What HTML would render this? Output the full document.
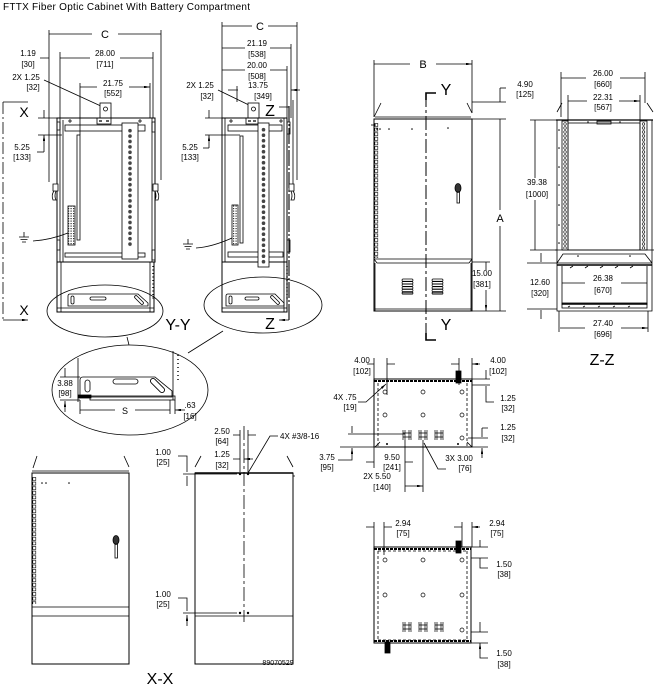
<!DOCTYPE html>
<html><head><meta charset="utf-8"><style>
html,body{margin:0;padding:0;background:#fff;}
svg{display:block;}
text{font-family:"Liberation Sans",Arial,sans-serif;fill:#000;stroke:none;}
</style></head><body>
<svg width="654" height="689" viewBox="0 0 654 689" xmlns="http://www.w3.org/2000/svg">
<defs>
<marker id="a" viewBox="0 0 10 4" refX="10" refY="2" markerWidth="6" markerHeight="2.4" markerUnits="userSpaceOnUse" orient="auto"><path d="M0,0L10,2L0,4z" fill="#000" stroke="none"/></marker>
<pattern id="h1" x="122" y="128" width="16" height="5.4" patternUnits="userSpaceOnUse"><circle cx="8" cy="2.7" r="1.8" fill="#444"/></pattern>
<pattern id="h2" x="258" y="127" width="11" height="5.5" patternUnits="userSpaceOnUse"><circle cx="5.5" cy="2.7" r="1.8" fill="#444"/></pattern>
<pattern id="hg1" x="374" y="123" width="6" height="4.6" patternUnits="userSpaceOnUse"><rect x="0.8" y="0.5" width="3" height="3" fill="none" stroke="#000" stroke-width="0.6"/></pattern>
<pattern id="hg2" x="32" y="477" width="6" height="4.6" patternUnits="userSpaceOnUse"><rect x="0.8" y="0.5" width="3" height="3" fill="none" stroke="#000" stroke-width="0.6"/></pattern>
<pattern id="zr1" x="562" y="122" width="6" height="4" patternUnits="userSpaceOnUse"><circle cx="3" cy="2" r="1.3" fill="none" stroke="#000" stroke-width="0.6"/></pattern>
<pattern id="zr2" x="640" y="122" width="7" height="4" patternUnits="userSpaceOnUse"><circle cx="3.5" cy="2" r="1.3" fill="none" stroke="#000" stroke-width="0.6"/></pattern>
<pattern id="tb" x="0" y="0" width="2.5" height="2.5" patternUnits="userSpaceOnUse"><rect x="0.5" y="0.5" width="1.2" height="1.2" fill="#333"/></pattern>
</defs>

<text x="3" y="10" font-size="10" textLength="247">FTTX Fiber Optic Cabinet With Battery Compartment</text>

<g stroke="#000" stroke-width="0.8" fill="none">
<!-- ============ VIEW 1 ============ -->
<path d="M49,30V182M161,30V180M60,52V118M153,52V118M80,83V135M150,83V118"/>
<path d="M92,34H49M118,34H161M40,58H49M90,58H60M120,58H153M97,87H80M129,87H150" marker-end="url(#a)"/>
<path d="M44,80L103,107"/>
<rect x="100" y="103" width="11" height="15" fill="#fff"/>
<circle cx="105.5" cy="109" r="2"/>
<rect x="97" y="118" width="14" height="6"/>
<path d="M99,121h3M106,121h3" stroke-width="1.2"/>
<path d="M3,102H28M3,320H28" marker-end="url(#a)"/>
<path d="M3,102V320" stroke-dasharray="12,3,2,3"/>
<path d="M38,118H57M38,135H62"/>
<path d="M44,110V118M44,152V135" marker-end="url(#a)"/>
<path d="M44,152H37"/>
<rect x="57" y="118" width="98" height="144" stroke-width="1"/>
<rect x="57" y="262" width="97" height="50" stroke-width="1"/>
<path d="M60,118V262M63,120V262M152,118V262"/>
<rect x="65" y="125" width="80" height="6"/>
<path d="M68,121h4M70,119v4M138,121h4M140,119v4"/>
<rect x="65" y="253" width="80" height="4"/>
<rect x="122" y="123" width="16" height="136" fill="#fff"/>
<rect x="122" y="128" width="16" height="119" fill="url(#h1)" stroke="none"/>
<rect x="77" y="135" width="3" height="105"/>
<rect x="68" y="206" width="7" height="39" fill="url(#tb)"/>
<path d="M53,184h5v7h-5zM54,191q-3,4 -1,9h3q-2,-4 0,-9z" fill="#fff"/>
<path d="M153,184h5v7h-5zM157,191q3,4 1,9h-3q2,-4 0,-9z" fill="#fff"/>
<path d="M57,122h3v8h-3zM57,240h3v10h-3zM152,122h3v10h-3zM152,250h3v10h-3z"/>
<path d="M61,262V312M150,262V312"/>
<path d="M153,266V300" stroke-dasharray="1,2.5" stroke-width="1.4"/>
<path d="M70,294H138L148,303V306H68V296Q68,294 70,294z"/>
<rect x="71" y="296" width="3" height="8" rx="1.5"/>
<rect x="90" y="297" width="16" height="3" rx="1.5"/>
<path d="M136,297L142,303" stroke-width="3.6" stroke-linecap="round"/>
<path d="M136,297L142,303" stroke-width="2" stroke="#fff" stroke-linecap="round"/>
<path d="M57,308H154"/>
<ellipse cx="105" cy="311" rx="58" ry="26"/>

<!-- ============ VIEW 2 ============ -->
<path d="M222,22V118M297,22V180M291,44V118M287,66V118M237,86V102M293,100V193"/>
<path d="M252,26H222M268,26H297M245,48H222M270,48H291M245,70H222M270,70H287M228,90H238M300,90H291" marker-end="url(#a)"/>
<path d="M218,90L253,107"/>
<rect x="248" y="103" width="11" height="15" fill="#fff"/>
<circle cx="253.5" cy="109" r="2"/>
<rect x="246" y="118" width="12" height="6"/>
<path d="M248,121h3M253,121h3" stroke-width="1.2"/>
<path d="M289,107H279M289,320H279" marker-end="url(#a)"/>
<path d="M289,106V320" stroke-width="1.1" stroke-dasharray="16,2,2,2"/>
<path d="M205,118H222M205,135H240"/>
<path d="M209,110V118M209,148V135" marker-end="url(#a)"/>
<path d="M209,148H203"/>
<rect x="222" y="118" width="65" height="144" stroke-width="1"/>
<rect x="222" y="262" width="65" height="50" stroke-width="1"/>
<path d="M225,118V262M284,118V312"/>
<rect x="228" y="125" width="54" height="6"/>
<path d="M229,121h4M231,119v4M279,121h4M281,119v4"/>
<rect x="228" y="252" width="55" height="5"/>
<rect x="258" y="123" width="11" height="144" fill="#fff"/>
<rect x="258" y="127" width="11" height="137" fill="url(#h2)" stroke="none"/>
<rect x="240" y="136" width="3" height="107"/>
<rect x="232" y="205" width="6" height="40" fill="url(#tb)"/>
<path d="M287,122h3v12h-3zM287,240h3v12h-3z"/>
<path d="M289,184h5v7h-5zM293,191q3,4 1,9h-3q2,-4 0,-9z" fill="#fff"/>
<path d="M287,266V300" stroke-dasharray="1,2.5" stroke-width="1.4"/>
<path d="M228,294H275L284,303V306H226V296Q226,294 228,294z"/>
<rect x="229" y="296" width="3" height="8" rx="1.5"/>
<rect x="245" y="297" width="14" height="3" rx="1.5"/>
<path d="M272,297L278,303" stroke-width="3.6" stroke-linecap="round"/>
<path d="M272,297L278,303" stroke-width="2" stroke="#fff" stroke-linecap="round"/>
<path d="M222,308H287"/>
<ellipse cx="263" cy="305" rx="59" ry="28"/>

<path d="M24,232V237M19,237H29M20.5,239.5H27.5M22,242H26"/>
<path d="M33,241Q50,240 68,233"/>
<path d="M188,239V244M183,244H193M184.5,246.5H191.5M186,249H190"/>
<path d="M196,248Q212,247 232,238"/>

<path d="M127,337L129,345M223,331L188,353"/>

<!-- ============ DETAIL ELLIPSE ============ -->
<ellipse cx="130" cy="390" rx="78" ry="45"/>
<path d="M78,358V402M173,351V400"/>
<path d="M178,355V380" stroke-dasharray="1,3" stroke-width="1.4"/>
<path d="M83,377H155L172,391V397H80V380Q80,377 83,377z"/>
<rect x="90" y="396" width="85" height="4"/>
<rect x="78" y="395" width="13" height="3" fill="#000"/>
<rect x="85" y="380" width="5" height="12" rx="2.5"/>
<rect x="113" y="379" width="25" height="5" rx="2.5"/>
<path d="M153,381L162,390" stroke-width="6" stroke-linecap="round"/>
<path d="M153,381L162,390" stroke-width="4.2" stroke="#fff" stroke-linecap="round"/>
<path d="M60,377H80M60,400H80"/>
<path d="M65,368V377M65,412V401" marker-end="url(#a)"/>
<path d="M80,400V414M170,400V414M175,400V414"/>
<path d="M115,410H80M135,410H170M185,410H175" marker-end="url(#a)"/>

<!-- ============ VIEW 3 (front) ============ -->
<path d="M410,64H374M436,64H472" marker-end="url(#a)"/>
<path d="M374,60V117M472,60V113"/>
<path d="M374,117L381,103M467,103L472,113"/>
<path d="M375,117H471"/>
<rect x="374" y="119" width="98" height="192" stroke-width="1"/>
<path d="M374,259H472M377,263H469M374,259L377,263M472,259L469,263"/>
<path d="M375,263V311M471,263V311M375,309H471"/>
<rect x="374" y="123" width="6" height="135" fill="url(#hg1)" stroke="none"/>
<path d="M371,125H376"/>
<g fill="#000" stroke="none"><circle cx="377" cy="129" r="0.8"/><circle cx="380" cy="129" r="0.8"/><circle cx="389" cy="129" r="0.8"/><circle cx="412" cy="129" r="0.8"/><circle cx="448" cy="128" r="0.8"/></g>
<ellipse cx="458" cy="188" rx="3" ry="4.5" fill="#333"/>
<rect x="457" y="192" width="2.5" height="11"/>
<path d="M426,93V340" stroke-width="1" stroke-dasharray="14,3,3,3"/>
<path d="M426,100V93H436M426,333V340H436" stroke-width="1.6"/>
<g stroke-width="0.7">
<rect x="402" y="279" width="11" height="2.2" rx="1.1"/><rect x="402" y="281.6" width="11" height="2.2" rx="1.1"/><rect x="402" y="284.2" width="11" height="2.2" rx="1.1"/><rect x="402" y="286.8" width="11" height="2.2" rx="1.1"/><rect x="402" y="289.4" width="11" height="2.2" rx="1.1"/><rect x="402" y="292" width="11" height="2.2" rx="1.1" fill="#888"/>
<rect x="432" y="279" width="11" height="2.2" rx="1.1"/><rect x="432" y="281.6" width="11" height="2.2" rx="1.1"/><rect x="432" y="284.2" width="11" height="2.2" rx="1.1"/><rect x="432" y="286.8" width="11" height="2.2" rx="1.1"/><rect x="432" y="289.4" width="11" height="2.2" rx="1.1"/><rect x="432" y="292" width="11" height="2.2" rx="1.1" fill="#888"/>
</g>
<path d="M472,102H506M472,119H506M472,311H506M472,262H490"/>
<path d="M500,88V102M500,210V119M500,226V311M486,270V262M486,290V311" marker-end="url(#a)"/>
<path d="M500,88H506"/>

<!-- ============ Z-Z VIEW ============ -->
<path d="M561,72V117M645,72V103M568,95V122M640,95V122"/>
<path d="M586,78H561M620,78H645M587,101H568M619,101H640" marker-end="url(#a)"/>
<path d="M557,112L562,103M647,103L653,112"/>
<path d="M556,120H653" stroke-width="1.2"/>
<path d="M557,120V250M652,120V250"/>
<rect x="562" y="121" width="6" height="129"/>
<rect x="562" y="122" width="6" height="127" fill="url(#zr1)" stroke="none"/>
<rect x="640" y="121" width="7" height="129"/>
<rect x="640" y="122" width="7" height="127" fill="url(#zr2)" stroke="none"/>
<rect x="568" y="123" width="72" height="127"/>
<rect x="597" y="121" width="14" height="3" fill="#999"/>
<g fill="#000" stroke="none"><circle cx="559" cy="130" r="0.8"/><circle cx="559" cy="148" r="0.8"/><circle cx="559" cy="167" r="0.8"/><circle cx="559" cy="185" r="0.8"/><circle cx="559" cy="205" r="0.8"/><circle cx="559" cy="225" r="0.8"/><circle cx="559" cy="243" r="0.8"/><circle cx="578" cy="256" r="0.8"/><circle cx="630" cy="256" r="0.8"/><circle cx="588" cy="122" r="0.7"/><circle cx="620" cy="122" r="0.7"/></g>
<path d="M555,250H654M557,263L563,254H645L652,263M557,250V263M652,250V263M557,263H652"/>
<path d="M557,263V311H652V263"/>
<path d="M562,266V305M647,266V305"/>
<path d="M557,265H652" stroke-width="1.6"/>
<path d="M573,266l-3,2M588,266l-3,2M603,266l-3,2M618,266l-3,2M633,266l-3,2"/>
<rect x="562" y="303" width="85" height="5"/>
<path d="M562,304H647" stroke-width="1.4"/>
<path d="M570,306l-2,1M585,306l-2,1M600,306l-2,1M615,306l-2,1M630,306l-2,1"/>
<path d="M527,263H557M527,309H557M530,120H557M530,250H557"/>
<path d="M541,253V262M541,319V310M535,178V120M535,200V250M585,283H562M621,283H647M585,328H560M621,328H648" marker-end="url(#a)"/>
<path d="M559,311V332M648,311V332"/>

<!-- ============ X-X LEFT ============ -->
<path d="M33,468L37,456M124,456L129,467"/>
<path d="M32,471H129"/>
<rect x="32" y="473" width="97" height="191" stroke-width="1"/>
<path d="M32,607H129M32,616H129"/>
<rect x="32" y="477" width="6" height="127" fill="url(#hg2)" stroke="none"/>
<g fill="#000" stroke="none"><circle cx="42" cy="483" r="0.8"/><circle cx="46" cy="483" r="0.8"/><circle cx="69" cy="483" r="0.8"/></g>
<ellipse cx="116" cy="540" rx="3" ry="4.5" fill="#333"/>
<rect x="115" y="544" width="2.5" height="14"/>

<!-- ============ X-X RIGHT ============ -->
<path d="M195,467L201,456M287,456L293,467"/>
<rect x="195" y="473" width="98" height="191" stroke-width="1"/>
<path d="M195,473H293" stroke-width="1.4"/>
<path d="M195,616H293M293,476h2"/>
<path d="M244,426V622" stroke-dasharray="14,3,3,3"/>
<g fill="#000" stroke="none"><circle cx="240" cy="474" r="1.2"/><circle cx="248" cy="474" r="1.2"/><circle cx="240" cy="613" r="1.2"/><circle cx="248" cy="613" r="1.2"/></g>
<path d="M183,474H237M183,613H237"/>
<path d="M178,456H187V472M187,486V476M178,598H187V611M187,626V615" marker-end="url(#a)"/>
<path d="M240,430V472M248,430V472"/>
<path d="M233,435H240M256,435H248M233,459H240M253,459H244" marker-end="url(#a)"/>
<path d="M278,436H270L248,473"/>
<path d="M348,434H405M340,447H374"/>
<path d="M352,426V433M338,460H352V448" marker-end="url(#a)"/>

<!-- ============ TOP PLAN ============ -->
<rect x="374" y="379" width="98" height="68" stroke-width="1"/>
<path d="M374,381H472" stroke-width="2" stroke-dasharray="3,1"/>
<path d="M378,383V447M467,383V447" stroke-dasharray="3,2"/>
<path d="M375,447L380,442M467,442L472,447"/>
<g stroke-width="0.7">
<circle cx="385" cy="392" r="2"/><circle cx="423" cy="392" r="2"/><circle cx="462" cy="392" r="2"/>
<circle cx="385" cy="415" r="2"/><circle cx="423" cy="415" r="2"/><circle cx="462" cy="415" r="2"/>
<circle cx="462" cy="438" r="2"/>
<path d="M403,430v10M405,430v10M409,430v10M411,430v10M403,433h8M403,437h8"/>
<path d="M419,430v10M421,430v10M425,430v10M427,430v10M419,433h8M419,437h8"/>
<path d="M435,430v10M437,430v10M441,430v10M443,430v10M435,433h8M435,437h8"/>
</g>
<rect x="456" y="371" width="5" height="12" fill="#000"/>
<g fill="#000" stroke="none"><circle cx="387" cy="444" r="1"/><circle cx="458" cy="444" r="1"/></g>
<path d="M374,358V379M387,358V395M459,358V385M472,358V379"/>
<path d="M367,364H374M395,364H387M451,364H459M480,364H472" marker-end="url(#a)"/>
<path d="M472,379H490M472,385H490M468,438H488M472,447H488"/>
<path d="M486,370V379M486,396V386M482,428V437M482,458V448" marker-end="url(#a)"/>
<path d="M486,396V402H494M482,428H488"/>
<path d="M358,402H366L386,384" marker-end="url(#a)"/>
<path d="M374,447V468M405,440V492M423,440V492"/>
<path d="M366,462H374M413,462H405M414,486H405M414,486H423" marker-end="url(#a)"/>
<path d="M424,443L438,469H446"/>

<!-- ============ BOTTOM PLAN ============ -->
<rect x="374" y="547" width="97" height="96" stroke-width="1"/>
<path d="M374,549H471M374,641H471" stroke-width="2" stroke-dasharray="3,1"/>
<path d="M378,551V640M467,551V640M378,551H467M378,640H467" stroke-dasharray="3,2"/>
<g stroke-width="0.7">
<circle cx="385" cy="560" r="2"/><circle cx="423" cy="560" r="2"/><circle cx="462" cy="560" r="2"/>
<circle cx="385" cy="595" r="2"/><circle cx="423" cy="595" r="2"/><circle cx="462" cy="595" r="2"/>
<circle cx="462" cy="630" r="2"/>
<path d="M403,622v10M405,622v10M409,622v10M411,622v10M403,625h8M403,629h8"/>
<path d="M419,622v10M421,622v10M425,622v10M427,622v10M419,625h8M419,629h8"/>
<path d="M435,622v10M437,622v10M441,622v10M443,622v10M435,625h8M435,629h8"/>
</g>
<rect x="456" y="541" width="5" height="12" fill="#000"/>
<rect x="385" y="642" width="5" height="11" fill="#000"/>
<path d="M374,522V547M384,522V555M462,522V547M472,522V547"/>
<path d="M366,527H374M392,527H384M454,527H462M480,527H472" marker-end="url(#a)"/>
<path d="M471,547H488M471,558H488M471,632H488M471,643H488"/>
<path d="M480,540V547M480,566V558M480,622V632M480,652V643" marker-end="url(#a)"/>
<path d="M480,566V568H488M480,652V658H488"/>
</g>

<!-- ============ TEXT ============ -->
<g font-size="8" text-anchor="middle">
<text x="105" y="38" font-size="11">C</text>
<text x="28" y="56">1.19</text><text x="28" y="67">[30]</text>
<text x="105" y="56">28.00</text><text x="105" y="67">[711]</text>
<text x="113" y="86">21.75</text><text x="113" y="96">[552]</text>
<text x="26" y="80">2X 1.25</text><text x="33" y="90">[32]</text>
<text x="22" y="150">5.25</text><text x="22" y="160">[133]</text>
<text x="24" y="117" font-size="14">X</text>
<text x="24" y="315" font-size="14">X</text>
<text x="178" y="330" font-size="16">Y-Y</text>

<text x="260" y="30" font-size="11">C</text>
<text x="257" y="46">21.19</text><text x="257" y="57">[538]</text>
<text x="257" y="68">20.00</text><text x="257" y="79">[508]</text>
<text x="258" y="88">13.75</text><text x="263" y="99">[349]</text>
<text x="200" y="88">2X 1.25</text><text x="207" y="99">[32]</text>
<text x="190" y="150">5.25</text><text x="190" y="160">[133]</text>
<text x="270" y="116" font-size="16">Z</text>
<text x="270" y="329" font-size="16">Z</text>

<text x="65" y="386">3.88</text><text x="65" y="396">[98]</text>
<text x="125" y="414" font-size="9">S</text>
<text x="190" y="408">.63</text><text x="190" y="419">[16]</text>

<text x="423" y="68" font-size="11">B</text>
<text x="446" y="95" font-size="16">Y</text>
<text x="446" y="330" font-size="16">Y</text>
<text x="525" y="87">4.90</text><text x="525" y="97">[125]</text>
<text x="500" y="222" font-size="11">A</text>
<text x="482" y="276">15.00</text><text x="482" y="287">[381]</text>

<text x="603" y="76">26.00</text><text x="603" y="87">[660]</text>
<text x="603" y="100">22.31</text><text x="603" y="110">[567]</text>
<text x="537" y="185">39.38</text><text x="537" y="197">[1000]</text>
<text x="540" y="285">12.60</text><text x="540" y="296">[320]</text>
<text x="603" y="281">26.38</text><text x="603" y="293">[670]</text>
<text x="603" y="326">27.40</text><text x="603" y="337">[696]</text>
<text x="602" y="365" font-size="16">Z-Z</text>

<text x="362" y="363">4.00</text><text x="362" y="374">[102]</text>
<text x="498" y="363">4.00</text><text x="498" y="374">[102]</text>
<text x="345" y="400">4X .75</text><text x="350" y="410">[19]</text>
<text x="508" y="401">1.25</text><text x="508" y="411">[32]</text>
<text x="508" y="430">1.25</text><text x="508" y="441">[32]</text>
<text x="327" y="460">3.75</text><text x="327" y="470">[95]</text>
<text x="392" y="460">9.50</text><text x="392" y="470">[241]</text>
<text x="377" y="479">2X 5.50</text><text x="382" y="490">[140]</text>
<text x="459" y="461">3X 3.00</text><text x="465" y="471">[76]</text>

<text x="222" y="434">2.50</text><text x="222" y="444">[64]</text>
<text x="222" y="457">1.25</text><text x="222" y="468">[32]</text>
<text x="280" y="439" text-anchor="start">4X #3/8-16</text>
<text x="163" y="455">1.00</text><text x="163" y="465">[25]</text>
<text x="163" y="597">1.00</text><text x="163" y="607">[25]</text>

<text x="403" y="526">2.94</text><text x="403" y="536">[75]</text>
<text x="497" y="526">2.94</text><text x="497" y="536">[75]</text>
<text x="504" y="567">1.50</text><text x="504" y="577">[38]</text>
<text x="504" y="656">1.50</text><text x="504" y="667">[38]</text>

<text x="278" y="665" font-size="7">89070529</text>
<text x="160" y="684" font-size="16">X-X</text>
</g>
</svg>
</body></html>
